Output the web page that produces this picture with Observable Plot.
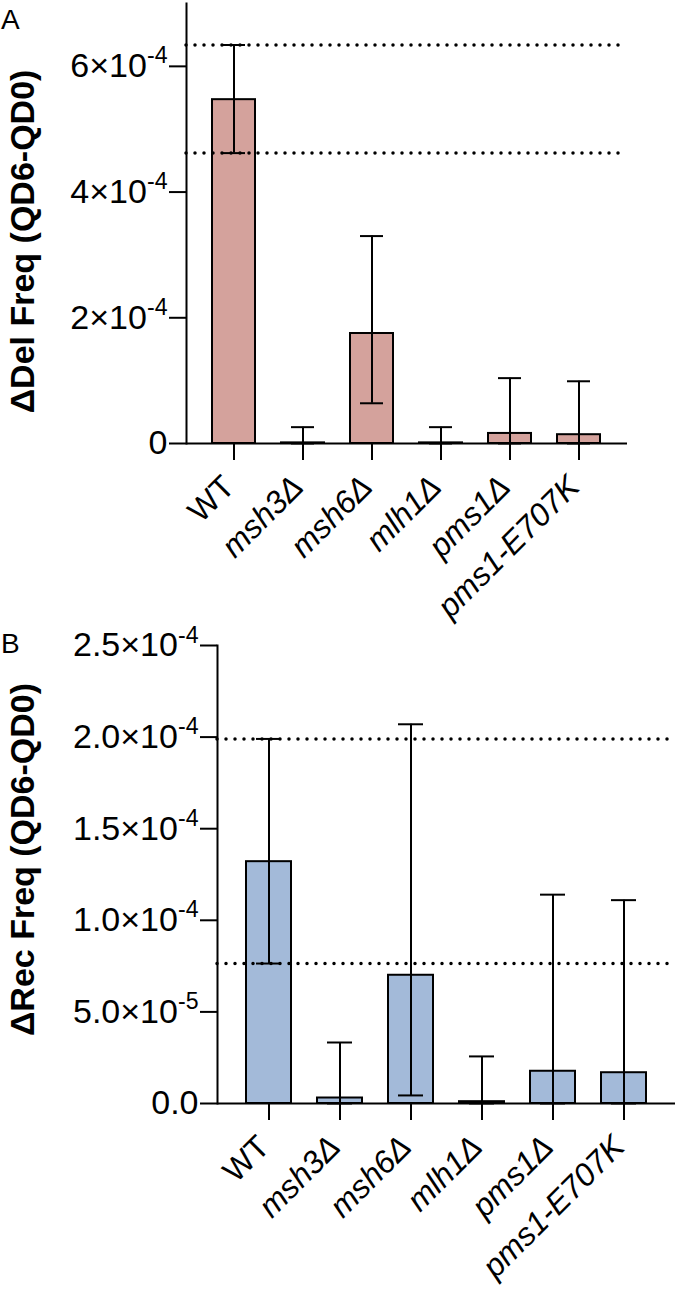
<!DOCTYPE html>
<html><head><meta charset="utf-8">
<script src="https://cdn.jsdelivr.net/npm/d3@7"></script>
<script src="https://cdn.jsdelivr.net/npm/@observablehq/plot@0.6"></script>
<style>
body{margin:0;background:#fff;font-family:"Liberation Sans",Arial,sans-serif;}
#wrap{position:relative;width:677px;height:1295px;overflow:hidden;background:#fff;}
.panel{position:absolute;left:0;}
.panel svg{background:transparent !important;}
.plabel{position:absolute;left:1px;font-size:28px;line-height:1;font-family:"Liberation Sans",Arial,sans-serif;color:#000;}
</style></head><body><div id="wrap"></div>
<script>
const genotypes = ["WT","msh3Δ","msh6Δ","mlh1Δ","pms1Δ","pms1-E707K"];

const delMean = [5.47e-4, 1e-6, 1.75e-4, 1e-6, 1.6e-5, 1.4e-5];
const delLow  = [4.62e-4, 0, 0.64e-4, 0, 0, 0];
const delHigh = [6.34e-4, 2.6e-5, 3.30e-4, 2.6e-5, 1.04e-4, 0.99e-4];
const delTicks = [0, 2e-4, 4e-4, 6e-4];
const delTickLabels = ["0", "2×10^-4", "4×10^-4", "6×10^-4"];

const recMean = [1.32e-4, 3e-6, 7.0e-5, 1e-6, 1.76e-5, 1.68e-5];
const recLow  = [0.764e-4, 0, 4.4e-6, 0, 0, 0];
const recHigh = [1.99e-4, 3.33e-5, 2.07e-4, 2.57e-5, 1.14e-4, 1.11e-4];
const recTicks = [0, 5e-5, 1e-4, 1.5e-4, 2e-4, 2.5e-4];
const recTickLabels = ["0.0","5.0×10^-5","1.0×10^-4","1.5×10^-4","2.0×10^-4","2.5×10^-4"];

function panel(o) {
  const data = genotypes.map((g, i) => ({g, m: o.mean[i], lo: o.low[i], hi: o.high[i]}));
  const svg = Plot.plot({
    width: 677, height: o.height,
    marginTop: o.mt, marginBottom: o.mb, marginLeft: o.ml, marginRight: o.mr,
    style: {fontFamily: '"Liberation Sans", Arial, sans-serif', color: "#000", background: "transparent", overflow: "visible"},
    x: {domain: genotypes, padding: 0.37},
    y: {domain: o.domain},
    marks: [
      Plot.barY(data, {x: "g", y: "m", fill: o.color, stroke: "#000", strokeWidth: 2}),
      Plot.ruleY([o.low[0], o.high[0]], {stroke: "#000", strokeWidth: 3.5, strokeDasharray: "0 9", strokeLinecap: "round", insetRight: o.dotInset}),
      Plot.ruleX(data, {x: "g", y1: "lo", y2: "hi", stroke: "#000", strokeWidth: 2}),
      Plot.tickY(data, {x: "g", y: "hi", stroke: "#000", strokeWidth: 2, insetLeft: 10, insetRight: 10}),
      Plot.tickY(data, {x: "g", y: "lo", stroke: "#000", strokeWidth: 2, insetLeft: 10, insetRight: 10}),
      Plot.ruleY([0], {stroke: "#000", strokeWidth: 2}),
      Plot.frame({anchor: "left", stroke: "#000", strokeWidth: 2}),
      Plot.axisY({ticks: o.ticks, tickFormat: d => o.tickLabels[o.ticks.indexOf(d)], tickSize: 17, tickPadding: 2, fontSize: o.yFont, strokeWidth: 2, label: null}),
      Plot.axisX({tickSize: 17, strokeWidth: 2, label: null, tickFormat: null}),
      Plot.axisX({tickSize: 0, tickRotate: -45, tickPadding: 38, dx: -5, fontSize: 32, label: null}),
      Plot.text([o.title], {frameAnchor: "left", rotate: -90, dx: o.titleDx, dy: o.titleDy, fontSize: 34, fontWeight: "bold", textAnchor: "middle"})
    ]
  });
  d3.select(svg).selectAll('g[aria-label="y-axis tick label"] text').each(function() {
    const t = this.textContent;
    if (t.includes("^")) {
      const [base, exp] = t.split("^");
      const sel = d3.select(this);
      sel.text(null);
      sel.append("tspan").text(base);
      sel.append("tspan").attr("dy", "-0.6em").attr("font-size", "0.68em").text(exp);
    }
  });
  d3.select(svg).selectAll('g[aria-label="x-axis tick label"] text').each(function() {
    if (this.textContent !== "WT") d3.select(this).attr("font-style", "italic");
  });
  return svg;
}

const wrap = document.getElementById("wrap");

const svgTop = panel({
  mean: delMean, low: delLow, high: delHigh, ticks: delTicks, tickLabels: delTickLabels,
  domain: [0, 7e-4], color: "#d4a29c", height: 640, mt: 3, mb: 197, ml: 186, mr: 50, yFont: 34,
  title: "ΔDel Freq (QD6-QD0)", titleDx: -163, titleDy: 18, dotInset: 7
});
const d1 = document.createElement("div"); d1.className = "panel"; d1.style.top = "0px"; d1.appendChild(svgTop); wrap.appendChild(d1);

const svgBot = panel({
  mean: recMean, low: recLow, high: recHigh, ticks: recTicks, tickLabels: recTickLabels,
  domain: [0, 2.5e-4], color: "#a3bad9", height: 695, mt: 45, mb: 192, ml: 217, mr: 2, yFont: 34,
  title: "ΔRec Freq (QD6-QD0)", titleDx: -194, titleDy: -15, dotInset: 5
});
const d2 = document.createElement("div"); d2.className = "panel"; d2.style.top = "600px"; d2.appendChild(svgBot); wrap.appendChild(d2);

const la = document.createElement("div"); la.className = "plabel"; la.style.top = "6px"; la.textContent = "A"; wrap.appendChild(la);
const lb = document.createElement("div"); lb.className = "plabel"; lb.style.top = "630px"; lb.textContent = "B"; wrap.appendChild(lb);
</script>
</body></html>
